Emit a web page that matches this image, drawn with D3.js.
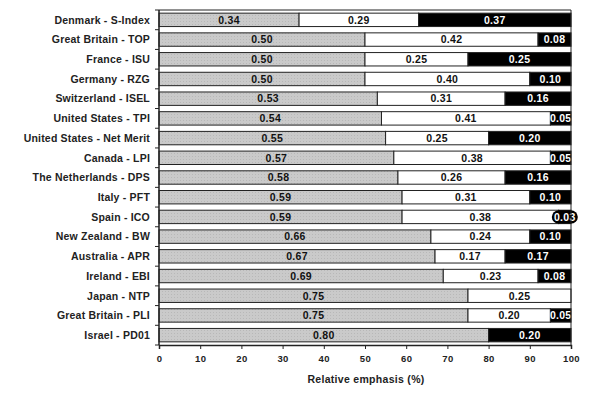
<!DOCTYPE html>
<html>
<head>
<meta charset="utf-8">
<script src="https://cdn.jsdelivr.net/npm/d3@7"></script>
<style>
  body { margin: 0; background: #fff; }
  text { font-family: "Liberation Sans", Arial, sans-serif; font-weight: bold; }
</style>
</head>
<body>
<div id="chart"></div>
<script>
const categories = [
  "Denmark - S-Index", "Great Britain - TOP", "France - ISU", "Germany - RZG",
  "Switzerland - ISEL", "United States - TPI", "United States - Net Merit",
  "Canada - LPI", "The Netherlands - DPS", "Italy - PFT", "Spain - ICO",
  "New Zealand - BW", "Australia - APR", "Ireland - EBI", "Japan - NTP",
  "Great Britain - PLI", "Israel - PD01"
];
const production = [0.34, 0.50, 0.50, 0.50, 0.53, 0.54, 0.55, 0.57, 0.58, 0.59, 0.59, 0.66, 0.67, 0.69, 0.75, 0.75, 0.80];
const functional = [0.29, 0.42, 0.25, 0.40, 0.31, 0.41, 0.25, 0.38, 0.26, 0.31, 0.38, 0.24, 0.17, 0.23, 0.25, 0.20, 0.00];
const other      = [0.37, 0.08, 0.25, 0.10, 0.16, 0.05, 0.20, 0.05, 0.16, 0.10, 0.03, 0.10, 0.17, 0.08, 0.00, 0.05, 0.20];
const xTicks = [0, 10, 20, 30, 40, 50, 60, 70, 80, 90, 100];

const showViz = () => {
  const width = 600, height = 393;
  const margin = {top: 10, right: 29, bottom: 48, left: 159};

  const svg = d3.select("#chart").append("svg")
      .attr("width", width).attr("height", height);

  const x = d3.scaleLinear().domain([0, 100])
      .range([margin.left, width - margin.right]);
  const y = d3.scaleBand().domain(categories)
      .range([margin.top, height - margin.bottom])
      .paddingInner(0.32).paddingOuter(0.16);

  const defs = svg.append("defs");
  const pat = defs.append("pattern").attr("id", "hatch")
      .attr("patternUnits", "userSpaceOnUse").attr("width", 3).attr("height", 3);
  pat.append("rect").attr("width", 3).attr("height", 3).attr("fill", "#cacaca");
  pat.append("rect").attr("x", 0).attr("y", 0).attr("width", 1).attr("height", 1).attr("fill", "#b8b8b8");

  const rows = categories.map((c, i) => {
    const segs = [
      {v: production[i], start: 0, fill: "url(#hatch)", txt: "#111"},
      {v: functional[i], start: production[i], fill: "#fff", txt: "#111"},
      {v: other[i], start: production[i] + functional[i], fill: "#000", txt: "#fff"}
    ].filter(s => s.v > 0);
    // keep rounded totals inside 100 %
    segs.forEach(s => { s.w = Math.min(s.v, 1 - s.start); s.cat = c; });
    return {cat: c, segs};
  });

  const g = svg.append("g").selectAll("g").data(rows).join("g");

  g.selectAll("rect").data(d => d.segs)
    .join("rect")
      .attr("x", s => x(s.start * 100))
      .attr("y", s => y(s.cat))
      .attr("width", s => x(s.w * 100) - x(0))
      .attr("height", y.bandwidth())
      .attr("fill", s => s.fill)
      .attr("stroke", "#222")
      .attr("stroke-width", 1);

  // small value badges
  g.selectAll("rect.badge").data(d => d.segs.filter(s => s.v < 0.05))
    .join("rect").attr("class", "badge")
      .attr("x", s => x((s.start + s.w / 2) * 100) - 13)
      .attr("y", s => y(s.cat))
      .attr("width", 26).attr("height", y.bandwidth())
      .attr("rx", 7).attr("fill", "#000");

  g.selectAll("text").data(d => d.segs)
    .join("text")
      .attr("x", s => x((s.start + s.w / 2) * 100))
      .attr("y", s => y(s.cat) + y.bandwidth() / 2)
      .attr("dy", "0.36em")
      .attr("text-anchor", "middle")
      .attr("font-size", 10.5)
      .attr("letter-spacing", 0.3)
      .attr("fill", s => s.txt)
      .text(s => s.v.toFixed(2));

  // frame
  svg.append("line").attr("x1", x(0)).attr("x2", x(100))
      .attr("y1", margin.top).attr("y2", margin.top).attr("stroke", "#222");
  svg.append("line").attr("x1", x(100)).attr("x2", x(100))
      .attr("y1", margin.top).attr("y2", height - margin.bottom).attr("stroke", "#222");

  // y axis with ticks at row boundaries
  const yAxis = svg.append("g").attr("transform", `translate(${margin.left},0)`);
  yAxis.append("line").attr("y1", margin.top).attr("y2", height - margin.bottom)
      .attr("stroke", "#222").attr("stroke-width", 1.5);
  const step = y.step();
  yAxis.selectAll("line.tk").data(d3.range(categories.length + 1))
    .join("line").attr("class", "tk")
      .attr("x1", -4).attr("x2", 0)
      .attr("y1", i => margin.top + i * step).attr("y2", i => margin.top + i * step)
      .attr("stroke", "#222");
  yAxis.selectAll("text").data(categories).join("text")
      .attr("x", -9)
      .attr("y", c => y(c) + y.bandwidth() / 2)
      .attr("dy", "0.36em")
      .attr("text-anchor", "end")
      .attr("font-size", 10.5)
      .attr("letter-spacing", 0.2)
      .attr("fill", "#222")
      .text(c => c);

  const xAxis = svg.append("g")
      .attr("transform", `translate(0,${height - margin.bottom})`)
      .call(d3.axisBottom(x).tickValues(xTicks).tickSize(4).tickPadding(6));
  xAxis.select(".domain").attr("stroke", "#222").attr("stroke-width", 1.5);
  xAxis.selectAll("line").attr("stroke", "#222");
  xAxis.selectAll("text").attr("font-size", 9.5).attr("fill", "#222")
      .attr("letter-spacing", 0.4)
      .attr("font-family", "Liberation Sans, Arial, sans-serif").attr("font-weight", "bold");

  svg.append("text")
      .attr("x", (x(0) + x(100)) / 2 + 1)
      .attr("y", 383)
      .attr("text-anchor", "middle")
      .attr("font-size", 10.5)
      .attr("letter-spacing", 0.3)
      .attr("fill", "#222")
      .text("Relative emphasis (%)");
};

showViz();
</script>
</body>
</html>
